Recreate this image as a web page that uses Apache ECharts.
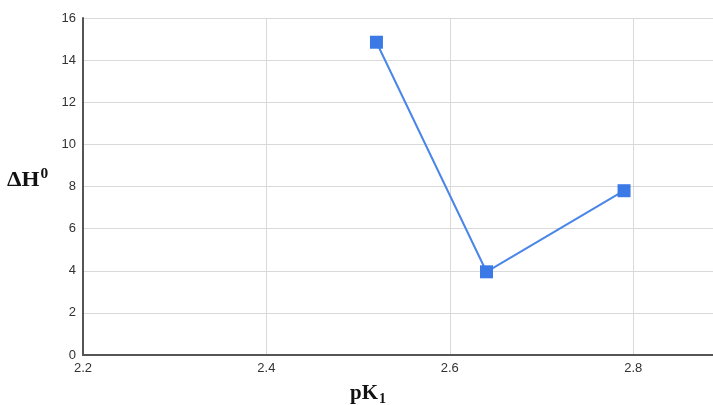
<!DOCTYPE html>
<html><head><meta charset="utf-8">
<script src="https://cdn.jsdelivr.net/npm/echarts@6/dist/echarts.min.js"></script>
<style>html,body{margin:0;padding:0;background:#fff}#c{width:713px;height:405px}</style>
</head><body><div id="c"></div>
<script>
const pK1 = [2.52, 2.64, 2.79];
const dH0 = [14.85, 3.95, 7.8];
const xTicks = [2.2, 2.4, 2.6, 2.8];
const yTicks = [0, 2, 4, 6, 8, 10, 12, 14, 16];

const chart = echarts.init(document.getElementById('c'));
chart.setOption({
  animation: false,
  backgroundColor: '#fff',
  grid: {left: 83, right: 0, top: 18, bottom: 50},
  xAxis: {
    type: 'value', min: 2.2, max: 2.887, interval: 0.2,
    axisLine: {show: true, onZero: false, lineStyle: {color: '#555', width: 2}},
    axisTick: {show: false},
    axisLabel: {color: '#333', fontFamily: 'Liberation Sans, Arial', fontSize: 13, margin: 7,
      showMaxLabel: false,
      formatter: v => xTicks.some(t => Math.abs(t - v) < 1e-6) ? v.toFixed(1) : ''},
    splitLine: {show: true, lineStyle: {color: '#d9d9d9', width: 1}}
  },
  yAxis: {
    type: 'value', min: 0, max: 16, interval: 2,
    axisLine: {show: true, onZero: false, lineStyle: {color: '#555', width: 2}},
    axisTick: {show: false},
    axisLabel: {color: '#333', fontFamily: 'Liberation Sans, Arial', fontSize: 13, margin: 7,
      formatter: v => yTicks.includes(v) ? String(v) : ''},
    splitLine: {show: true, lineStyle: {color: '#d9d9d9', width: 1}}
  },
  series: [{
    type: 'line',
    data: pK1.map((x, i) => [x, dH0[i]]),
    symbol: 'rect', symbolSize: 13,
    lineStyle: {color: '#4a86e8', width: 2},
    itemStyle: {color: '#3b7ae6'}
  }],
  graphic: [
    {type: 'text', left: 7, top: 167, scaleX: 1.1, style: {
      text: '{a|ΔH}{s|0}', rich: {
        a: {fontFamily: 'Liberation Serif, Times New Roman', fontWeight: 'bold', fontSize: 21, fill: '#111', verticalAlign: 'bottom'},
        s: {fontFamily: 'Liberation Serif, Times New Roman', fontWeight: 'bold', fontSize: 14, fill: '#111', verticalAlign: 'top', padding: [0,0,10,1]}
      }}},
    {type: 'text', left: 350, top: 383, style: {
      text: '{a|pK}{s|1}', rich: {
        a: {fontFamily: 'Liberation Serif, Times New Roman', fontWeight: 'bold', fontSize: 21, fill: '#111'},
        s: {fontFamily: 'Liberation Serif, Times New Roman', fontWeight: 'bold', fontSize: 14, fill: '#111', padding: [12,0,0,1]}
      }}}
  ]
});
</script></body></html>
